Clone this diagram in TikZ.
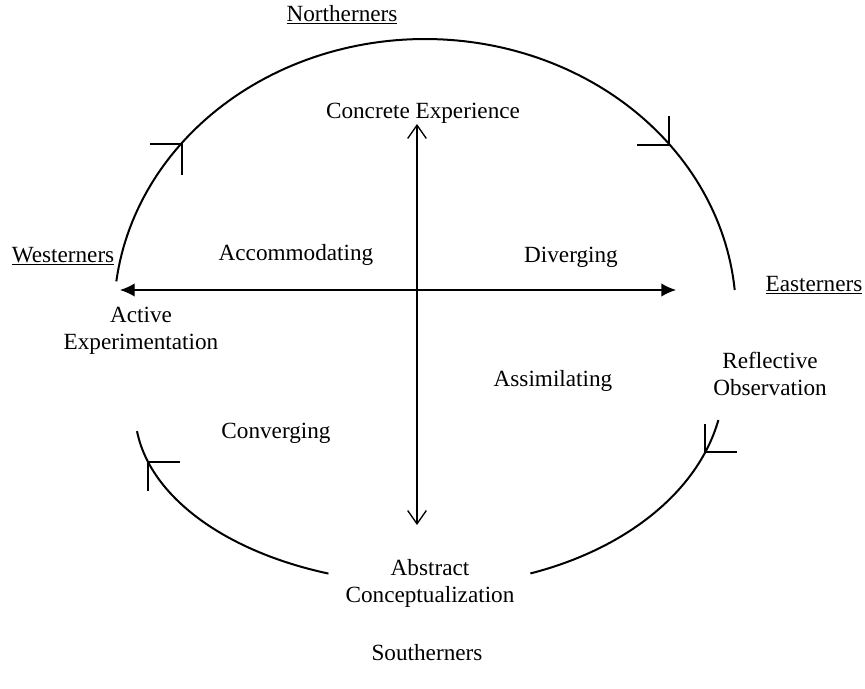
\documentclass[tikz,border=0pt]{standalone}
\usepackage{fontspec}
\setmainfont{Liberation Serif}
\usetikzlibrary{arrows.meta}
\tikzset{
  arcline/.style={line width=1.5pt},
  tickline/.style={line width=1.3pt},
  axis/.style={line width=1pt},
  lbl/.style={align=center,inner sep=0pt,font=\fontsize{17.4}{20.25}\selectfont}
}
\begin{document}
\begin{tikzpicture}[x=0.75pt,y=-0.75pt]
\useasboundingbox (0,0) rectangle (865,689);
% upper arc
\draw[arcline] plot[domain=5.2:173,samples=120] ({425+311*cos(\x)},{315-276*sin(\x)});
% lower-left arc
\draw[arcline] plot[domain=110:173.3,samples=60] ({429+294*cos(\x)},{411+173*sin(\x)});
% lower-right arc
\draw[arcline] plot[domain=11.2:69.9,samples=60] ({429+295*cos(\x)},{380+206*sin(\x)});
% ticks (arrow marks)
\draw[tickline] (150,144) -- (182,144) -- (182,175);
\draw[tickline] (637,145) -- (669,145) -- (669,116);
\draw[tickline] (705,424) -- (705,452) -- (737,452);
\draw[tickline] (180,462) -- (148,462) -- (148,491);
% axes
\coordinate (hl) at (120,290);
\coordinate (hr) at (676,290);
\coordinate (vt) at (417,124);
\coordinate (vb) at (417,525);
\draw[axis,{Latex[length=11pt,width=10pt]}-{Latex[length=11pt,width=10pt]}] (hl) -- (hr);
\draw[axis,{Straight Barb[length=10pt,width=14pt]}-{Straight Barb[length=10pt,width=14pt]}] (vt) -- (vb);
% labels
\node[lbl] (north) at (342,15) {\underline{Northerners}};
\node[lbl] (ce) at (423,113) {Concrete Experience};
\node[lbl] (acc) at (296,255) {Accommodating};
\node[lbl] (div) at (571,257) {Diverging};
\node[lbl] (west) at (63,256) {\underline{Westerners}};
\node[lbl] (east) at (814,285) {\underline{Easterners}};
\node[lbl] (ae) at (141,331) {Active\\Experimentation};
\node[lbl] (ro) at (770,374) {Reflective\\Observation};
\node[lbl] (assim) at (553,381) {Assimilating};
\node[lbl] (conv) at (276,433) {Converging};
\node[lbl] (ac) at (430,583) {Abstract\\Conceptualization};
\node[lbl] (south) at (427,653) {Southerners};
\end{tikzpicture}
\end{document}
